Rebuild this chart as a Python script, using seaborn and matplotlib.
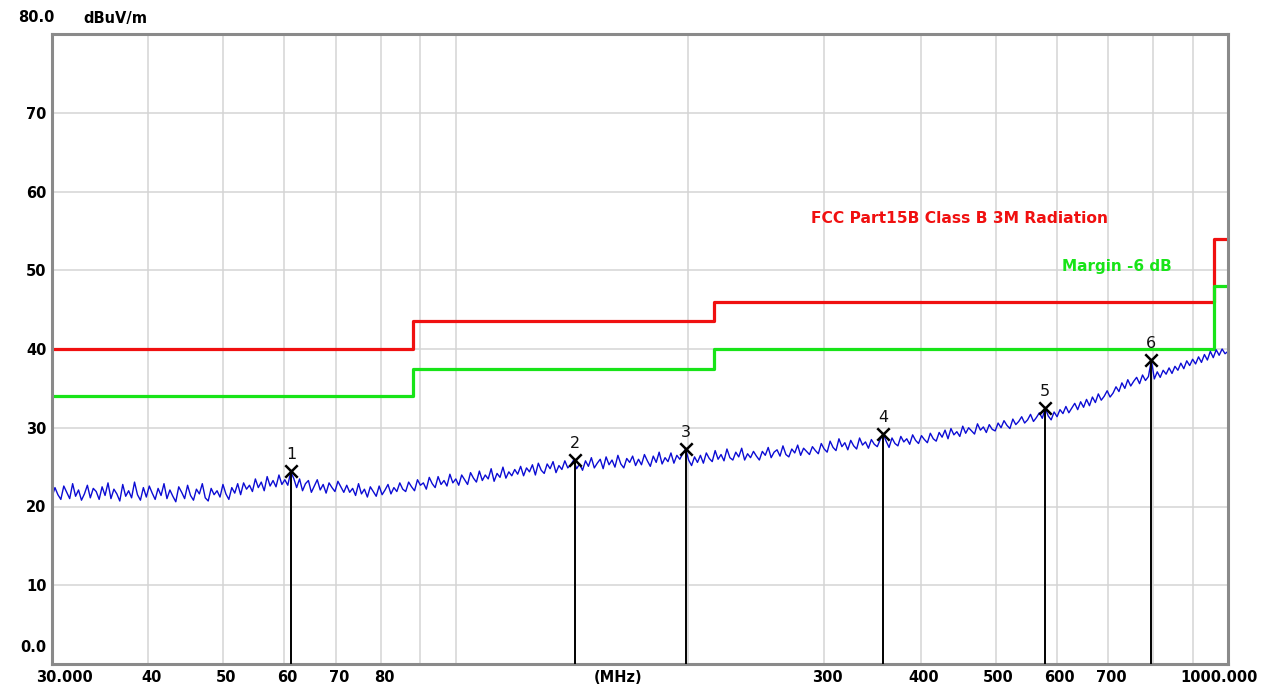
import numpy as np
import pandas as pd
import matplotlib
matplotlib.use("Agg")
import matplotlib.pyplot as plt
import matplotlib.transforms as mtransforms
from matplotlib.ticker import NullFormatter
import seaborn as sns

# sweep range (MHz)
f_start = 30
f_stop = 1000

trace_levels = [
    21.2, 22.4, 21.5, 20.9, 22.6, 21.8, 21.0, 22.9, 21.3, 22.1, 20.8, 21.6, 22.7, 21.1, 22.3, 21.9, 20.9, 22.5, 21.4, 23.0,
    21.0, 22.2, 21.6, 20.7, 22.8, 21.3, 22.0, 21.1, 23.1, 21.5, 20.8, 22.4, 21.2, 22.6, 21.7, 20.9, 22.3, 21.4, 22.9, 21.0,
    22.1, 21.3, 20.6, 22.5, 21.8, 21.0, 22.7, 21.4, 20.8, 22.2, 21.6, 22.9, 21.1, 20.7, 22.3, 21.5, 22.0, 21.2, 22.8, 21.6,
    20.9, 22.4, 21.7, 22.9, 21.5, 23.0, 22.2, 22.7, 21.9, 23.5, 22.4, 23.1, 22.0, 23.8, 22.6, 23.3, 22.5, 24.0, 22.8, 23.4,
    22.7, 24.4, 23.6, 22.4, 23.5, 22.0, 22.9, 23.3, 21.8, 22.6, 23.4, 22.1, 22.8, 21.7, 23.0, 22.4, 21.9, 23.2, 22.5, 21.8,
    22.7, 21.8, 22.3, 21.4, 22.9, 21.6, 22.2, 21.2, 22.5, 21.9, 21.3, 22.6, 21.5, 22.1, 22.8, 21.6, 22.4, 21.9, 23.0, 22.2,
    21.9, 23.1, 22.5, 22.0, 23.4, 22.7, 23.0, 22.2, 23.7, 22.9, 22.4, 23.8, 22.8, 23.3, 22.6, 24.1, 23.0, 23.5, 22.7, 24.0,
    23.4, 22.8, 24.3, 23.6, 23.1, 24.5, 23.3, 24.0, 23.5, 24.8, 23.2, 24.2, 23.7, 25.0, 23.6, 24.4, 23.9, 24.7, 24.1, 25.1,
    23.9, 24.9, 24.4, 25.3, 24.0, 25.5, 24.6, 24.2, 25.4, 24.8, 25.7, 24.3, 25.2, 24.7, 25.8, 24.9, 25.3, 25.9, 24.8, 25.4,
    24.6, 25.8, 25.1, 26.2, 24.9, 25.5, 26.0, 24.8, 26.3, 25.3, 25.9, 25.0, 26.5, 25.4, 24.9, 26.1, 25.6, 26.4, 25.2, 26.0,
    25.3, 26.6, 25.8, 25.1, 26.4, 25.6, 26.9, 25.4, 26.2, 25.7, 26.8, 25.5, 26.5, 26.0, 26.7, 27.3, 25.9, 25.2, 26.3, 25.6,
    26.5, 25.5, 26.8, 26.1, 25.7, 27.1, 26.0, 26.6, 25.8, 27.3, 26.2, 25.9, 26.9, 26.3, 27.4, 25.9, 26.7, 26.2, 27.0, 26.4,
    25.9, 27.0, 26.5, 27.5, 26.2, 26.9, 27.2, 26.4, 27.7, 26.6, 26.3, 27.3, 26.8, 27.8, 26.5, 27.4, 27.0, 26.6, 27.6, 27.1,
    26.7, 28.0, 27.3, 26.9, 28.3, 27.5, 27.1, 28.6, 27.6, 28.1, 27.2, 28.4, 27.7, 27.3, 28.7, 27.8, 28.2, 27.4, 28.5, 27.9,
    27.6, 28.5, 29.2, 28.3, 27.5, 28.7, 28.0, 27.7, 28.9, 28.2, 28.6, 27.9, 29.1, 28.4, 28.0, 29.0, 28.5, 28.1, 29.3, 28.6,
    28.3, 29.4, 28.8, 29.7, 28.6, 29.9, 29.1, 29.5, 28.9, 30.2, 29.3, 30.0, 29.6, 29.2, 30.5, 29.7, 30.1, 29.4, 30.4, 29.8,
    29.6, 30.6, 30.0, 30.9, 30.3, 29.9, 31.1, 30.4, 30.8, 31.4, 30.6, 31.0, 31.7, 30.8, 31.3, 31.9, 31.2, 32.5, 31.5, 31.0,
    32.0, 31.4, 32.3, 31.8, 32.7, 31.9, 32.5, 33.1, 32.3, 33.3, 32.6, 33.6, 32.8, 33.9, 33.2, 34.3, 33.5, 34.0, 34.7, 33.9,
    34.4, 35.2, 34.6, 35.7, 35.0, 36.1, 35.3, 35.9, 36.4, 35.6, 36.7, 36.0, 36.5, 38.6, 36.2, 37.1, 36.4, 37.3, 36.8, 37.6,
    36.9, 37.8, 37.3, 38.2, 37.5, 38.5, 37.9, 38.7, 38.1, 39.0, 38.3, 39.3, 38.6, 39.7, 38.9, 39.9, 39.2, 40.0, 39.4, 39.7,
]

# FCC Part15B class B 3m limit and -6 dB margin (step edges)
limit_freqs = [30, 88, 216, 960, 1000]
limit_levels = [40, 43.5, 46, 54, 54]
margin_levels = [34, 37.5, 40, 48, 48]

# peak markers
marker_ids = ["1", "2", "3", "4", "5", "6"]
marker_freqs = [61.2, 142.7, 198.6, 357.6, 579.0, 795.0]
marker_levels = [24.5, 25.9, 27.3, 29.2, 32.5, 38.6]

# axis ticks
xtick_vals = [30, 40, 50, 60, 70, 80, 300, 400, 500, 600, 700, 1000]
xtick_labels = ["30.000", "40", "50", "60", "70", "80", "300", "400", "500", "600", "700", "1000.000"]
xgrid_vals = [90, 100, 200, 800, 900]
ytick_vals = [0, 10, 20, 30, 40, 50, 60, 70]
ytick_labels = ["0.0", "10", "20", "30", "40", "50", "60", "70"]

sns.set_style("white")
plt.rcParams["font.family"] = ["DejaVu Sans"]
plt.rcParams["text.color"] = "black"
plt.rcParams["xtick.color"] = "black"
plt.rcParams["ytick.color"] = "black"

trace = pd.DataFrame({"freq": np.geomspace(f_start, f_stop, len(trace_levels)),
                      "level": trace_levels})
limits = pd.DataFrame({"freq": limit_freqs, "limit": limit_levels, "margin": margin_levels})

fig = plt.figure(figsize=(12.72, 6.91), dpi=100)
ax = fig.add_axes([52 / 1272, 27 / 691, 1176 / 1272, 630 / 691])

ax.set_xscale("log")
ax.set_xlim(f_start, f_stop)
ax.set_ylim(0, 80)

# grid
ax.set_xticks(xtick_vals)
ax.set_xticklabels(xtick_labels)
ax.set_xticks(xgrid_vals, minor=True)
ax.xaxis.set_minor_formatter(NullFormatter())
ax.set_yticks(ytick_vals)
ax.set_yticklabels(ytick_labels)
ax.grid(True, which="both", color="#d4d4d4", linewidth=1.1)
ax.tick_params(which="both", length=0, labelcolor="black")
ax.tick_params(axis="x", pad=4, labelsize=10.5)
ax.tick_params(axis="y", pad=4, labelsize=10.5)
for lab in ax.get_xticklabels() + ax.get_yticklabels():
    lab.set_fontweight("bold")

# nudge the tick labels like the analyzer software does
px = lambda dx, dy: mtransforms.ScaledTranslation(dx / 100, dy / 100, fig.dpi_scale_trans)
xlabs = ax.get_xticklabels()
for i, lab in enumerate(xlabs):
    dx = 3
    if i == 0:
        dx = 12
    elif i == len(xlabs) - 1:
        dx = -9
    lab.set_transform(lab.get_transform() + px(dx, 0))
ylabs = ax.get_yticklabels()
ylabs[0].set_transform(ylabs[0].get_transform() + px(0, 18))

for side in ["top", "bottom", "left", "right"]:
    ax.spines[side].set_color("#8a8a8a")
    ax.spines[side].set_linewidth(2.2)

# limit lines
sns.lineplot(data=limits, x="freq", y="limit", ax=ax, color="#f01010", linewidth=2.3,
             drawstyle="steps-post", estimator=None, sort=False)
sns.lineplot(data=limits, x="freq", y="margin", ax=ax, color="#18e418", linewidth=2.3,
             drawstyle="steps-post", estimator=None, sort=False)

# measured trace
sns.lineplot(data=trace, x="freq", y="level", ax=ax, color="#0c0cd4", linewidth=1.0,
             estimator=None, sort=False)

# markers
ax.vlines(marker_freqs, 0, marker_levels, color="black", linewidth=1.4, zorder=4)
sns.scatterplot(x=marker_freqs, y=marker_levels, ax=ax, marker="x", s=80,
                color="black", linewidth=1.8, zorder=5)
for mid, mf, ml in zip(marker_ids, marker_freqs, marker_levels):
    ax.annotate(mid, (mf, ml), xytext=(0, 12), textcoords="offset points",
                ha="center", va="center", fontsize=11.5, color="#111111")

ax.set_xlabel("")
ax.set_ylabel("")

# labels
ax.text(162, -0.021, "(MHz)", transform=ax.get_xaxis_transform(), ha="center", va="center",
        fontsize=10.5, fontweight="bold")
fig.text(18 / 1272, 1 - 18 / 691, "80.0", ha="left", va="center", fontsize=10.5, fontweight="bold")
fig.text(83 / 1272, 1 - 18 / 691, "dBuV/m", ha="left", va="center", fontsize=10.5, fontweight="bold")
fig.text(811 / 1272, 1 - 219 / 691, "FCC Part15B Class B 3M Radiation", ha="left", va="center",
         fontsize=11.2, fontweight="bold", color="#f01010")
fig.text(1062 / 1272, 1 - 266 / 691, "Margin -6 dB", ha="left", va="center",
         fontsize=11, fontweight="bold", color="#18e418")

fig.savefig("out.png", dpi=100)
